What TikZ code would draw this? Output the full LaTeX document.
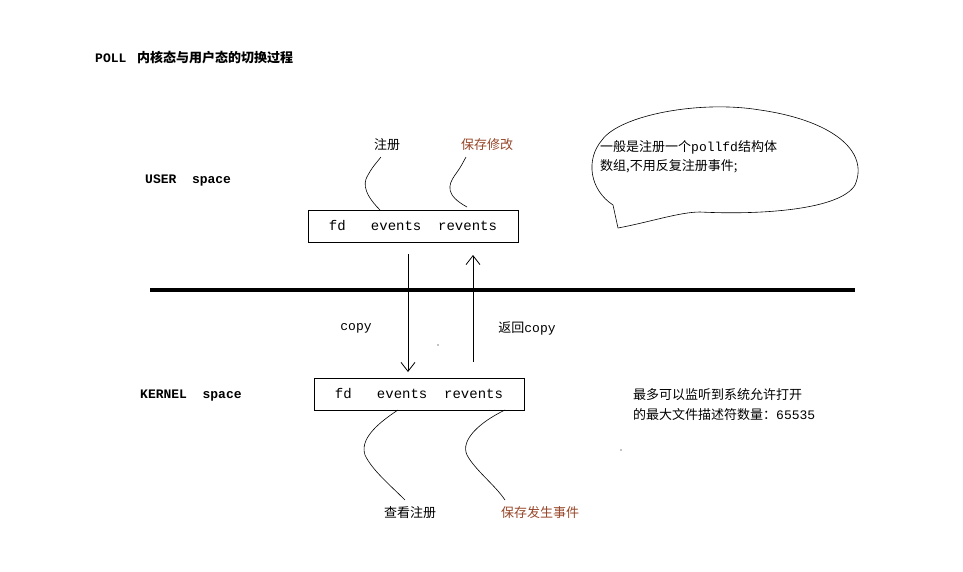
\documentclass[tikz,border=0pt]{standalone}
\usepackage{fontspec}
\setmainfont{Noto Sans CJK SC}
\newfontfamily\cjk{Noto Sans CJK SC}
\newfontfamily\monof{Liberation Mono}
\usetikzlibrary{arrows.meta}
\definecolor{brn}{RGB}{150,70,40}
\begin{document}
\begin{tikzpicture}[x=1pt,y=-1pt,
  lbl/.style={font=\fontsize{13}{15}\selectfont,inner sep=0pt},
  bold/.style={font=\monof\bfseries\fontsize{13}{15}\selectfont,inner sep=0pt,anchor=west},
  rec/.style={draw,line width=0.8pt,minimum width=210pt,minimum height=32pt,font=\monof\fontsize{14}{16}\selectfont},
  wig/.style={line width=0.6pt},
  arr/.style={line width=0.8pt,-{Straight Barb[length=9pt,width=14pt]}}]
\useasboundingbox (0,0) rectangle (963,571);
\node[bold] (title) at (95,58) {POLL {\cjk\bfseries\ 内核态与用户态的切换过程}};
\node[bold] (user) at (145,180) {USER\ \ space};
\node[bold] (kern) at (140,396) {KERNEL\ \ space};
\node[rec] (top) at (413,226) {fd\ \ \ events\ \ revents};
\node[rec] (bot) at (419,394) {fd\ \ \ events\ \ revents};
\node[lbl] (reg) at (387,145) {注册};
\node[lbl,text=brn] (save) at (487,145) {保存修改};
\node[lbl] (look) at (410,513) {查看注册};
\node[lbl,text=brn] (occ) at (540,513) {保存发生事件};
\node[lbl] (copy) at (356,328) {\monof copy};
\node[lbl] (ret) at (527,328) {返回{\monof copy}};
\node[lbl,anchor=west,align=left] (max) at (633,405) {最多可以监听到系统允许打开\\[5pt]的最大文件描述符数量：{\monof 65535}};
% wiggles
\draw[wig] (380,210) .. controls (360,190) and (365,180) .. (368,175) .. controls (372,168) .. (381,157);
\draw[wig] (467,207) .. controls (445,195) and (448,185) .. (455,175) .. controls (460,168) .. (466,157);
\draw[wig] (398,410) .. controls (375,425) and (360,440) .. (365,455) .. controls (372,470) and (390,485) .. (405,500);
\draw[wig] (505,410) .. controls (480,422) and (460,440) .. (467,455) .. controls (475,470) and (495,485) .. (505,500);
% bubble
\draw[line width=0.6pt] (602,140) .. controls (620,115) and (700,100) .. (760,110)
  .. controls (830,120) and (870,150) .. (855,185)
  .. controls (840,210) and (760,215) .. (700,212)
  .. controls (680,212) and (650,222) .. (618,228)
  -- (613,205)
  .. controls (590,190) and (585,160) .. (602,140);
\node[lbl,anchor=west,align=left] (bub) at (600,157) {一般是注册一个{\monof pollfd}结构体\\[4pt]数组,不用反复注册事件;};
% separator
\coordinate (l1) at (150,290); \coordinate (l2) at (855,290);
\draw[line width=4pt] (l1) -- (l2);
\coordinate (d1) at (408,254); \coordinate (d2) at (408,372);
\coordinate (u1) at (473,362); \coordinate (u2) at (473,255);
\draw[arr] (d1) -- (d2);
\draw[arr] (u1) -- (u2);
\fill (438,345) circle (0.7pt);
\fill (621,450) circle (0.7pt);
\end{tikzpicture}
\end{document}
